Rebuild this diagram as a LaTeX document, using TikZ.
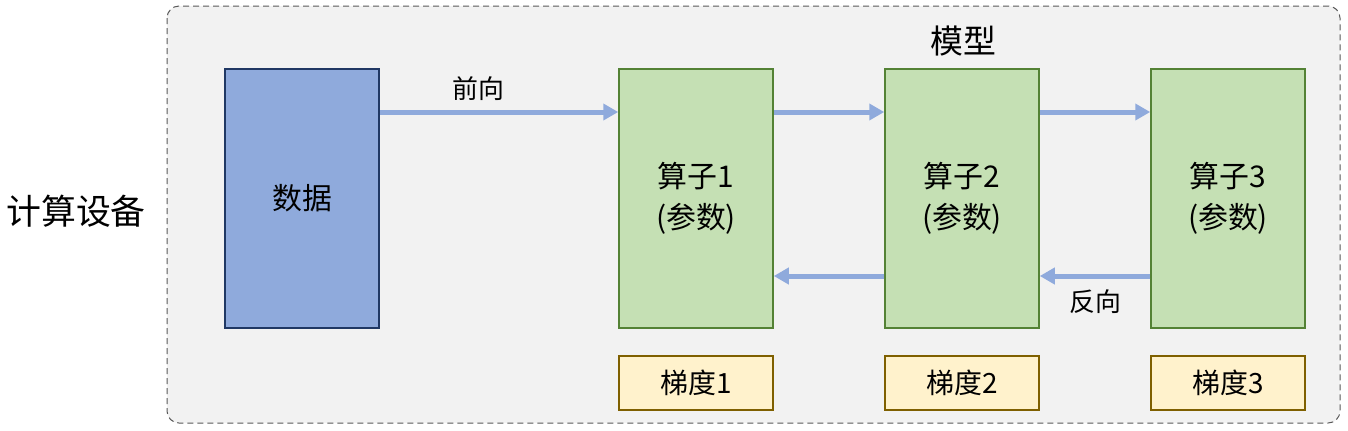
\documentclass[tikz,border=0pt]{standalone}
\usepackage{fontspec}
\setmainfont{Noto Sans CJK SC}
\usetikzlibrary{arrows.meta}
\definecolor{bgc}{HTML}{F2F2F2}
\definecolor{bluef}{HTML}{8FAADC}
\definecolor{blued}{HTML}{203864}
\definecolor{greenf}{HTML}{C5E0B4}
\definecolor{greend}{HTML}{548235}
\definecolor{yelf}{HTML}{FFF2CC}
\definecolor{yeld}{HTML}{7F6000}
\tikzset{
  databox/.style={draw=blued, fill=bluef, line width=1.5bp, minimum width=154bp, minimum height=259bp, inner sep=0pt, font=\fontsize{30}{36}\selectfont},
  opbox/.style={draw=greend, fill=greenf, line width=1.5bp, minimum width=154bp, minimum height=259bp, inner sep=0pt, align=center, font=\fontsize{30}{41}\selectfont},
  gradbox/.style={draw=yeld, fill=yelf, line width=1.5bp, minimum width=154bp, minimum height=54bp, inner sep=0pt, font=\fontsize{28}{32}\selectfont},
  flow/.style={draw=bluef, line width=5bp, -{Triangle[length=15bp,width=16bp]}},
  lbl/.style={inner sep=0pt, font=\fontsize{26}{30}\selectfont}
}
\begin{document}
\begin{tikzpicture}[x=1bp,y=-1bp]
\useasboundingbox (0,0) rectangle (1348,430);
\draw[draw=black!65, fill=bgc, line width=1bp, rounded corners=12bp, dash pattern=on 6bp off 4bp] (167,6) rectangle (1340,423);
\node[lbl, font=\fontsize{35}{40}\selectfont] (dev) at (76,211) {计算设备};
\node[lbl, font=\fontsize{33}{38}\selectfont] (model) at (963,41) {模型};
\node[databox] (data) at (302,198.5) {数据};
\node[opbox] (op1) at (696,198.5) {算子1\\(参数)};
\node[opbox] (op2) at (962,198.5) {算子2\\(参数)};
\node[opbox] (op3) at (1228,198.5) {算子3\\(参数)};
\node[gradbox] (g1) at (696,383) {梯度1};
\node[gradbox] (g2) at (962,383) {梯度2};
\node[gradbox] (g3) at (1228,383) {梯度3};
\coordinate (f0) at (379,112);
\draw[flow] (data.east |- f0) -- (op1.west |- f0);
\draw[flow] (op1.east |- f0) -- (op2.west |- f0);
\draw[flow] (op2.east |- f0) -- (op3.west |- f0);
\coordinate (b0) at (800,276);
\draw[flow] (op3.west |- b0) -- (op2.east |- b0);
\draw[flow] (op2.west |- b0) -- (op1.east |- b0);
\node[lbl] (fw) at (478,89) {前向};
\node[lbl] (bw) at (1095,302) {反向};
\end{tikzpicture}
\end{document}
